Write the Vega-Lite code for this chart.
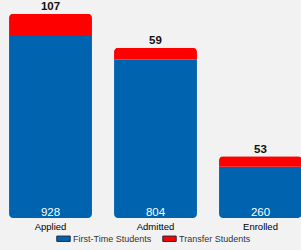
{
  "$schema": "https://vega.github.io/schema/vega-lite/v6.json",
  "width": 311,
  "height": 218,
  "padding": {"left": 0, "top": 0, "right": 0, "bottom": 32},
  "autosize": {"type": "none"},
  "background": "#f2f2f2",
  "config": {
    "view": {"stroke": null},
    "font": "Liberation Sans"
  },
  "data": {
    "values": [
      {"stage": "Applied", "type": "First-Time Students", "count": 928},
      {"stage": "Applied", "type": "Transfer Students", "count": 107},
      {"stage": "Admitted", "type": "First-Time Students", "count": 804},
      {"stage": "Admitted", "type": "Transfer Students", "count": 59},
      {"stage": "Enrolled", "type": "First-Time Students", "count": 260},
      {"stage": "Enrolled", "type": "Transfer Students", "count": 53}
    ]
  },
  "encoding": {
    "x": {
      "field": "stage",
      "type": "nominal",
      "sort": ["Applied", "Admitted", "Enrolled"],
      "scale": {"paddingInner": 0.21, "paddingOuter": 0.086},
      "axis": {
        "title": null,
        "labelAngle": 0,
        "ticks": false,
        "domain": false,
        "labelFontSize": 9.5,
        "labelColor": "#000000",
        "labelPadding": 3
      }
    }
  },
  "layer": [
    {
      "mark": {"type": "bar", "cornerRadius": 4},
      "encoding": {
        "y": {
          "field": "count",
          "type": "quantitative",
          "stack": "zero",
          "scale": {"domain": [0, 1105], "nice": false},
          "axis": null
        },
        "order": {"field": "type", "sort": "ascending"},
        "color": {
          "field": "type",
          "type": "nominal",
          "scale": {
            "domain": ["First-Time Students", "Transfer Students"],
            "range": ["#0063b0", "#ff0000"]
          },
          "legend": {
            "title": null,
            "orient": "none",
            "direction": "horizontal",
            "legendX": 56,
            "legendY": 231,
            "symbolType": "M-1,-0.4H1V0.4H-1Z",
            "symbolSize": 180,
            "symbolStrokeColor": "#1a2a3a",
            "symbolStrokeWidth": 1,
            "symbolOpacity": 1,
            "labelFontSize": 9,
            "labelColor": "#333333",
            "labelOffset": 2,
            "columnPadding": 8
          }
        }
      }
    },
    {
      "transform": [{"filter": "datum.type === 'First-Time Students'"}],
      "mark": {
        "type": "text",
        "color": "#ffffff",
        "fontSize": 11.5,
        "baseline": "alphabetic",
        "dy": -2
      },
      "encoding": {
        "y": {"datum": 0, "type": "quantitative"},
        "text": {"field": "count", "type": "quantitative"}
      }
    },
    {
      "transform": [
        {"joinaggregate": [{"op": "sum", "field": "count", "as": "total"}], "groupby": ["stage"]},
        {"filter": "datum.type === 'Transfer Students'"}
      ],
      "mark": {
        "type": "text",
        "color": "#111111",
        "fontSize": 11.5,
        "fontWeight": "bold",
        "baseline": "alphabetic",
        "dy": -3.5
      },
      "encoding": {
        "y": {"field": "total", "type": "quantitative"},
        "text": {"field": "count", "type": "quantitative"}
      }
    }
  ]
}
